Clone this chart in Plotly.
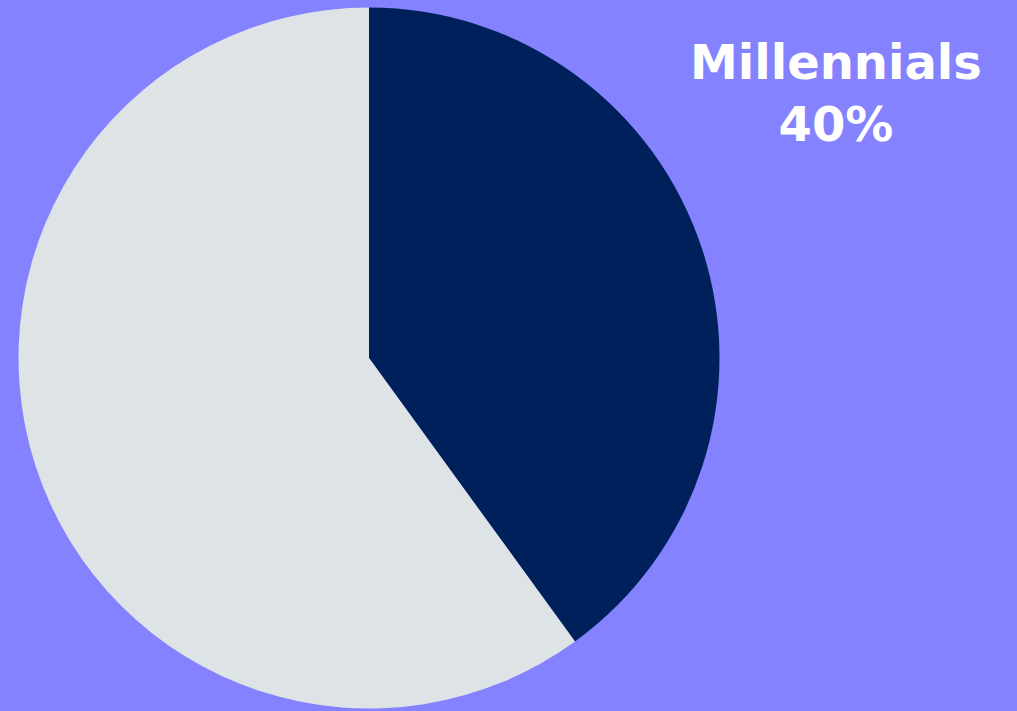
import plotly.graph_objects as go

# Share of the audience by generation
labels = ["Millennials", "Other"]
values = [40, 60]
colors = ["#00205B", "#DEE3E6"]

W, H = 1017, 711

fig = go.Figure(
    go.Pie(
        labels=labels,
        values=values,
        sort=False,
        direction="clockwise",
        rotation=0,
        marker=dict(colors=colors, line=dict(width=0)),
        textinfo="none",
        hoverinfo="label+percent",
        showlegend=False,
        domain=dict(x=[18.5 / W, 719.5 / W], y=[1 - 708.5 / H, 1 - 7.5 / H]),
    )
)

share = values[0] / sum(values) * 100
fig.add_annotation(
    text=f"<b>{labels[0]}<br>{share:.0f}%</b>",
    x=836 / W,
    y=1 - 93 / H,
    xref="paper",
    yref="paper",
    xanchor="center",
    yanchor="middle",
    showarrow=False,
    align="center",
    font=dict(family="DejaVu Sans", size=48, color="white"),
)

fig.update_layout(
    width=W,
    height=H,
    margin=dict(l=0, r=0, t=0, b=0),
    paper_bgcolor="#8482FF",
    plot_bgcolor="#8482FF",
)

fig.write_html("out.html")
